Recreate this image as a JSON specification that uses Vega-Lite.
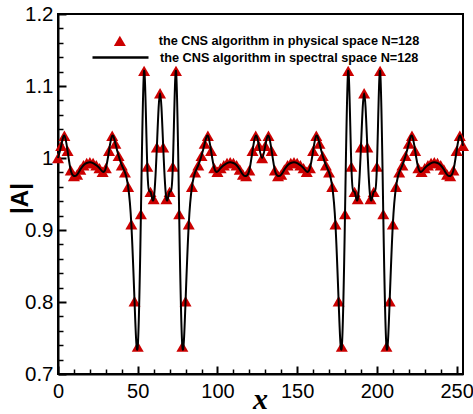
{
  "$schema": "https://vega.github.io/schema/vega-lite/v6.json",
  "width": 405,
  "height": 360,
  "autosize": {"type": "none"},
  "padding": {"left": 58, "top": 14, "right": 10, "bottom": 40},
  "config": {
    "view": {"stroke": "black", "strokeWidth": 2},
    "axis": {"grid": false, "domainColor": "black", "tickColor": "black", "labelColor": "black", "titleColor": "black", "labelFont": "Liberation Sans"}
  },
  "data": {"values": [
    {"x": 0, "A": 1.000}, {"x": 2, "A": 1.017}, {"x": 4, "A": 1.031}, {"x": 6, "A": 1.010}, {"x": 8, "A": 0.983}, {"x": 10, "A": 0.975}, {"x": 12, "A": 0.977}, {"x": 14, "A": 0.984},
    {"x": 16, "A": 0.990}, {"x": 18, "A": 0.993}, {"x": 20, "A": 0.994}, {"x": 22, "A": 0.993}, {"x": 24, "A": 0.990}, {"x": 26, "A": 0.986}, {"x": 28, "A": 0.981}, {"x": 30, "A": 0.986},
    {"x": 32, "A": 1.010}, {"x": 34, "A": 1.031}, {"x": 36, "A": 1.020}, {"x": 38, "A": 1.003}, {"x": 40, "A": 0.990}, {"x": 42, "A": 0.980}, {"x": 44, "A": 0.960}, {"x": 46, "A": 0.908},
    {"x": 48, "A": 0.801}, {"x": 50, "A": 0.738}, {"x": 52, "A": 0.922}, {"x": 54, "A": 1.121}, {"x": 56, "A": 0.988}, {"x": 58, "A": 0.953}, {"x": 60, "A": 0.943}, {"x": 62, "A": 1.015},
    {"x": 64, "A": 1.090}, {"x": 66, "A": 1.015}, {"x": 68, "A": 0.943}, {"x": 70, "A": 0.953}, {"x": 72, "A": 0.988}, {"x": 74, "A": 1.121}, {"x": 76, "A": 0.922}, {"x": 78, "A": 0.738},
    {"x": 80, "A": 0.801}, {"x": 82, "A": 0.908}, {"x": 84, "A": 0.960}, {"x": 86, "A": 0.980}, {"x": 88, "A": 0.990}, {"x": 90, "A": 1.003}, {"x": 92, "A": 1.020}, {"x": 94, "A": 1.031},
    {"x": 96, "A": 1.010}, {"x": 98, "A": 0.986}, {"x": 100, "A": 0.981}, {"x": 102, "A": 0.986}, {"x": 104, "A": 0.990}, {"x": 106, "A": 0.993}, {"x": 108, "A": 0.994}, {"x": 110, "A": 0.993},
    {"x": 112, "A": 0.990}, {"x": 114, "A": 0.984}, {"x": 116, "A": 0.977}, {"x": 118, "A": 0.975}, {"x": 120, "A": 0.983}, {"x": 122, "A": 1.010}, {"x": 124, "A": 1.031}, {"x": 126, "A": 1.017},
    {"x": 128, "A": 1.000}, {"x": 130, "A": 1.017}, {"x": 132, "A": 1.031}, {"x": 134, "A": 1.010}, {"x": 136, "A": 0.983}, {"x": 138, "A": 0.975}, {"x": 140, "A": 0.977}, {"x": 142, "A": 0.984},
    {"x": 144, "A": 0.990}, {"x": 146, "A": 0.993}, {"x": 148, "A": 0.994}, {"x": 150, "A": 0.993}, {"x": 152, "A": 0.990}, {"x": 154, "A": 0.986}, {"x": 156, "A": 0.981}, {"x": 158, "A": 0.986},
    {"x": 160, "A": 1.010}, {"x": 162, "A": 1.031}, {"x": 164, "A": 1.020}, {"x": 166, "A": 1.003}, {"x": 168, "A": 0.990}, {"x": 170, "A": 0.980}, {"x": 172, "A": 0.960}, {"x": 174, "A": 0.908},
    {"x": 176, "A": 0.801}, {"x": 178, "A": 0.738}, {"x": 180, "A": 0.922}, {"x": 182, "A": 1.121}, {"x": 184, "A": 0.988}, {"x": 186, "A": 0.953}, {"x": 188, "A": 0.943}, {"x": 190, "A": 1.015},
    {"x": 192, "A": 1.090}, {"x": 194, "A": 1.015}, {"x": 196, "A": 0.943}, {"x": 198, "A": 0.953}, {"x": 200, "A": 0.988}, {"x": 202, "A": 1.121}, {"x": 204, "A": 0.922}, {"x": 206, "A": 0.738},
    {"x": 208, "A": 0.801}, {"x": 210, "A": 0.908}, {"x": 212, "A": 0.960}, {"x": 214, "A": 0.980}, {"x": 216, "A": 0.990}, {"x": 218, "A": 1.003}, {"x": 220, "A": 1.020}, {"x": 222, "A": 1.031},
    {"x": 224, "A": 1.010}, {"x": 226, "A": 0.986}, {"x": 228, "A": 0.981}, {"x": 230, "A": 0.986}, {"x": 232, "A": 0.990}, {"x": 234, "A": 0.993}, {"x": 236, "A": 0.994}, {"x": 238, "A": 0.993},
    {"x": 240, "A": 0.990}, {"x": 242, "A": 0.984}, {"x": 244, "A": 0.977}, {"x": 246, "A": 0.975}, {"x": 248, "A": 0.983}, {"x": 250, "A": 1.010}, {"x": 252, "A": 1.031}, {"x": 254, "A": 1.017}
  ]},
  "layer": [
    {
      "mark": {"type": "point", "filled": true, "color": "#cc0000", "size": 144, "opacity": 1, "strokeWidth": 0},
      "encoding": {
        "x": {"field": "x", "type": "quantitative", "scale": {"domain": [0, 254], "nice": false, "zero": false},
          "axis": {"orient": "bottom", "values": [0, 50, 100, 150, 200, 250], "tickSize": -8, "tickWidth": 2, "domainWidth": 2, "labelFontSize": 20, "labelPadding": 15, "labelFlush": false,
            "title": "x", "titleFont": "Liberation Serif", "titleFontStyle": "italic", "titleFontWeight": "bold", "titleFontSize": 30, "titleX": 202, "titleY": 34, "titleBaseline": "alphabetic", "titleAlign": "center"}},
        "y": {"field": "A", "type": "quantitative", "scale": {"domain": [0.7, 1.2], "nice": false, "zero": false},
          "axis": {"orient": "left", "values": [0.7, 0.8, 0.9, 1.0, 1.1, 1.2], "format": "~g", "tickSize": -8, "tickWidth": 2, "domainWidth": 2, "labelFontSize": 20.5, "labelPadding": 13, "labelFlush": false,
            "title": "|A|", "titleFont": "Liberation Sans", "titleFontWeight": "bold", "titleFontSize": 24, "titleAngle": -90, "titleX": -31, "titleY": 184, "titleBaseline": "alphabetic", "titleAlign": "center"}},
        "shape": {"datum": "the CNS algorithm in physical space N=128", "type": "nominal",
          "scale": {"range": ["triangle-up"]},
          "legend": {"orient": "none", "legendX": 55.5, "legendY": 20.5, "title": null, "padding": 0, "symbolSize": 144, "labelOffset": 32.5,
            "symbolFillColor": "#cc0000", "symbolStrokeWidth": 0, "symbolOpacity": 1,
            "labelFont": "Liberation Sans", "labelFontWeight": "bold", "labelFontSize": 12.7, "labelColor": "black", "labelLimit": 0}
        }
      }
    },
    {
      "mark": {"type": "line", "color": "black", "strokeWidth": 2, "interpolate": "natural"},
      "encoding": {
        "x": {"field": "x", "type": "quantitative",
          "axis": {"orient": "bottom", "values": [10, 20, 30, 40, 60, 70, 80, 90, 110, 120, 130, 140, 160, 170, 180, 190, 210, 220, 230, 240], "tickSize": -5, "tickWidth": 1.5, "domain": false, "labels": false, "title": null}},
        "y": {"field": "A", "type": "quantitative",
          "axis": {"orient": "left", "values": [0.72, 0.74, 0.76, 0.78, 0.82, 0.84, 0.86, 0.88, 0.92, 0.94, 0.96, 0.98, 1.02, 1.04, 1.06, 1.08, 1.12, 1.14, 1.16, 1.18], "tickSize": -5, "tickWidth": 1.5, "domain": false, "labels": false, "title": null}},
        "stroke": {"datum": "the CNS algorithm in spectral space N=128", "type": "nominal",
          "scale": {"range": ["black"]},
          "legend": {"orient": "none", "legendX": 33, "legendY": 14, "title": null, "padding": 0, "symbolType": "stroke", "symbolSize": 3136, "symbolStrokeWidth": 2.5, "symbolStrokeColor": "black", "labelOffset": 10,
            "labelFont": "Liberation Sans", "labelFontWeight": "bold", "labelFontSize": 12.7, "labelColor": "black", "labelLimit": 0}
        }
      }
    }
  ],
  "resolve": {"axis": {"x": "independent", "y": "independent"}}
}
